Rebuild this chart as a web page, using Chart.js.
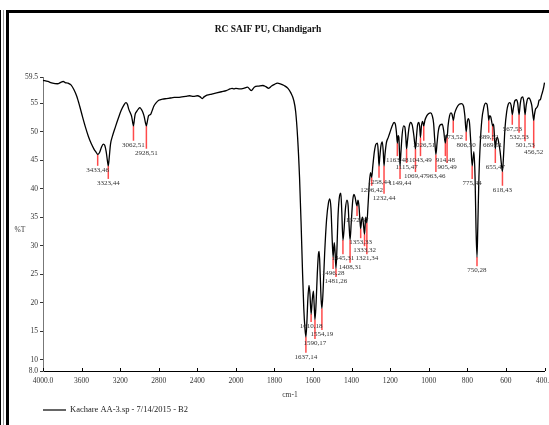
<!DOCTYPE html>
<html>
<head>
<meta charset="utf-8">
<title>RC SAIF PU, Chandigarh</title>
<script src="https://cdn.jsdelivr.net/npm/chart.js@4.4.1/dist/chart.umd.min.js"></script>
<style>
  html, body { margin: 0; padding: 0; background: #fff; overflow: hidden; width: 549px; height: 425px; }
  .rule { position: absolute; background: #000; }
  #wrap { position: absolute; left: 0; top: 0; width: 570px; height: 425px; }
</style>
</head>
<body>
<div class="rule" style="left:0;top:10px;width:1px;height:415px"></div>
<div class="rule" style="left:3px;top:10px;width:1px;height:415px;background:#9a9a9a"></div>
<div class="rule" style="left:6px;top:10px;width:3px;height:415px"></div>
<div class="rule" style="left:6px;top:10px;width:560px;height:3px"></div>
<div id="wrap"><canvas id="ir" width="570" height="425"></canvas></div>
<script>
// ---- Spectrum: wavenumber (cm-1) and transmittance (%T) ----
const WAVENUMBER = [
  4000, 3950, 3900, 3850, 3810, 3790, 3770, 3740, 3710, 3680, 3650, 3620, 3590, 3560, 3530, 3500,
  3470, 3450, 3433, 3415, 3395, 3375, 3360, 3345, 3333, 3323, 3313, 3300, 3280, 3250, 3220, 3190,
  3160, 3140, 3125, 3110, 3095, 3080, 3070, 3062, 3055, 3045, 3030, 3010, 2995, 2980, 2965, 2950,
  2938, 2928, 2918, 2905, 2885, 2870, 2850, 2830, 2800, 2760, 2720, 2680, 2640, 2600, 2560, 2520,
  2480, 2440, 2400, 2370, 2350, 2330, 2300, 2250, 2200, 2150, 2100, 2060, 2040, 2020, 2000, 1980,
  1960, 1940, 1920, 1905, 1880, 1860, 1845, 1830, 1815, 1800, 1785, 1770, 1750, 1730, 1715, 1700,
  1690, 1680, 1670, 1662, 1655, 1648, 1642, 1637, 1632, 1627, 1621, 1616, 1610, 1604, 1598, 1594,
  1590, 1584, 1578, 1572, 1568, 1563, 1558, 1554, 1548, 1540, 1530, 1520, 1513, 1507, 1500, 1496,
  1490, 1486, 1481, 1476, 1470, 1462, 1456, 1451, 1445, 1440, 1432, 1424, 1418, 1413, 1408, 1402,
  1394, 1388, 1382, 1376, 1372, 1367, 1362, 1357, 1353, 1348, 1343, 1338, 1333, 1327, 1321, 1315,
  1308, 1302, 1296, 1290, 1282, 1274, 1266, 1262, 1258, 1254, 1248, 1241, 1236, 1232, 1227, 1220,
  1210, 1200, 1190, 1180, 1174, 1168, 1163, 1159, 1155, 1152, 1149, 1145, 1138, 1130, 1124, 1119,
  1115, 1110, 1102, 1094, 1086, 1078, 1073, 1069, 1064, 1058, 1052, 1047, 1043, 1038, 1032, 1026,
  1020, 1010, 1000, 990, 982, 975, 969, 963, 957, 950, 940, 930, 922, 917, 914, 910,
  907, 905, 900, 892, 885, 879, 873, 866, 855, 842, 830, 820, 813, 806, 800, 795,
  789, 782, 775, 766, 760, 755, 750, 746, 740, 733, 725, 715, 705, 698, 693, 689,
  684, 679, 674, 669, 664, 660, 655, 650, 644, 637, 630, 624, 618, 612, 605, 596,
  588, 580, 573, 567, 561, 554, 546, 539, 532, 526, 520, 513, 507, 501, 495, 487,
  480, 473, 466, 461, 456, 452, 446, 440, 434, 428, 422, 416, 410, 404, 400
];
const TRANSMITTANCE = [
  59.0, 58.8, 58.5, 58.4, 58.7, 58.8, 58.6, 58.5, 58.2, 57.4, 56.2, 54.5, 52.6, 50.8, 49.2, 47.9,
  46.9, 46.4, 46.0, 46.3, 47.2, 47.8, 47.6, 46.5, 45.0, 44.0, 45.5, 47.8, 49.2, 50.8, 52.3, 53.7,
  54.7, 55.1, 54.8, 53.9, 53.3, 52.6, 51.6, 51.0, 51.8, 53.0, 53.5, 54.0, 54.2, 53.9, 53.4, 52.6,
  51.6, 51.0, 51.8, 52.8, 53.0, 53.6, 54.5, 55.0, 55.5, 55.7, 55.8, 55.9, 56.0, 56.0, 56.1, 56.2,
  56.3, 56.2, 56.3, 56.1, 55.8, 56.1, 56.4, 56.6, 56.8, 57.0, 57.2, 57.5, 57.6, 57.5, 57.6, 57.5,
  57.6, 57.8, 57.2, 57.8, 58.0, 58.1, 57.9, 57.6, 58.0, 58.3, 58.5, 58.4, 58.1, 57.6, 56.8, 55.5,
  53.5, 49.0, 42.0, 34.0, 26.0, 19.0, 15.5, 14.0, 16.5, 20.5, 23.0, 21.5, 18.0, 20.5, 22.0, 19.5,
  17.0, 20.0, 25.0, 28.5, 29.0, 25.0, 20.5, 19.0, 22.0, 28.5, 34.5, 37.5, 38.2, 36.5, 30.5, 28.0,
  30.5, 29.0, 26.0, 29.5, 35.5, 38.8, 39.2, 36.0, 31.0, 32.5, 36.5, 38.0, 37.0, 33.5, 31.0, 34.0,
  38.0, 39.0, 38.5, 37.4, 37.0, 38.0, 37.0, 34.5, 33.0, 34.5, 35.0, 33.5, 32.0, 35.0, 34.0, 37.0,
  41.0, 42.8, 42.0, 44.0, 46.5, 47.8, 48.0, 46.5, 44.0, 45.5, 47.5, 48.2, 46.5, 44.0, 46.0, 48.0,
  49.0, 50.0, 51.0, 51.6, 51.4, 50.0, 48.0, 49.3, 49.0, 46.5, 44.0, 46.0, 49.5, 51.0, 50.8, 49.0,
  47.0, 48.5, 50.8, 51.6, 51.2, 49.5, 48.0, 47.0, 49.0, 51.2, 51.6, 50.8, 49.0, 51.0, 51.8, 51.0,
  52.0, 52.8, 53.2, 53.3, 52.8, 51.5, 48.5, 46.0, 48.0, 50.2, 51.2, 51.3, 50.0, 48.5, 48.0, 49.3,
  49.4, 49.0, 51.0, 52.8, 53.3, 53.0, 52.0, 53.2, 54.2, 54.8, 54.9, 54.5, 52.8, 50.0, 51.8, 52.3,
  51.6, 48.0, 44.0, 46.5, 42.0, 33.0, 28.0, 33.0, 42.0, 48.0, 52.0, 54.2, 55.0, 54.8, 53.5, 52.0,
  52.8, 52.6, 51.8, 51.0, 51.3, 49.5, 47.0, 48.5, 49.0, 48.0, 46.5, 44.5, 43.0, 46.0, 50.5, 53.5,
  54.8, 55.1, 54.6, 53.0, 54.2, 55.4, 55.6, 55.0, 53.0, 54.8, 55.9, 56.1, 55.2, 53.0, 54.6, 55.8,
  55.9, 55.5, 54.6, 53.2, 52.0, 53.0, 54.0, 54.2, 54.6, 55.5, 55.6, 56.3, 57.0, 57.8, 58.6
];

// ---- Picked peaks: position (cm-1) and %T at the band minimum ----
const PEAK_WN = [
  3433, 3323, 3062, 2928, 1637, 1610, 1590, 1554, 1496, 1481, 1445, 1408, 1372, 1353,
  1333, 1321, 1296, 1258, 1232, 1163, 1149, 1115, 1069, 1043, 1026, 963, 914, 905,
  873, 806, 775, 750, 689, 669, 655, 618, 567, 532, 501, 456
];
const PEAK_T = [
  46, 44, 51, 51, 14, 18, 17, 19, 28, 26, 31, 31, 37, 33,
  32, 34, 42, 44, 44, 48, 44, 47, 47, 49, 51, 46, 48, 49,
  52, 50, 44, 28, 52, 51, 47, 43, 53, 53, 53, 52
];
// How far (in %T) each peak label hangs below its band, so neighbours do not collide
const PEAK_LABEL_DROP = [
  2.7, 3.0, 3.3, 4.7, 3.5, 2.1, 4.1, 4.5, 2.8, 2.2, 3.2, 4.7, 2.5, 2.4,
  2.8, 6.2, 2.2, 2.8, 5.6, 3.0, 3.0, 3.2, 4.8, 4.0, 3.3, 3.8, 3.0, 5.2,
  2.9, 2.3, 3.0, 2.3, 2.9, 3.3, 3.2, 3.2, 2.5, 3.9, 5.4, 5.6
];

// ---- Axis ticks ----
const X_TICKS = [4000, 3600, 3200, 2800, 2400, 2000, 1800, 1600, 1400, 1200, 1000, 800, 600, 400];
const X_TICK_LABELS = ['4000.0', '3600', '3200', '2800', '2400', '2000', '1800', '1600', '1400', '1200', '1000', '800', '600', '400.0'];
const Y_TICKS = [8, 10, 15, 20, 25, 30, 35, 40, 45, 50, 55, 59.5];
const Y_TICK_LABELS = ['8.0', '10', '15', '20', '25', '30', '35', '40', '45', '50', '55', '59.5'];

const TITLE = 'RC SAIF PU, Chandigarh';
const X_TITLE = 'cm-1';
const Y_TITLE = '%T';
const SERIES_NAME = 'Kachare AA-3.sp - 7/14/2015 - B2';

const SERIF = '"Liberation Serif", "DejaVu Serif", serif';

// Wavenumber axis with the usual scale change at 2000 cm-1:
// 400 cm-1 per division above it, 200 cm-1 per division below it.
function wnToDivision(wn) { return wn >= 2000 ? (4000 - wn) / 400 : 5 + (2000 - wn) / 200; }
function divisionToWn(d) { return d <= 5 ? 4000 - 400 * d : 2000 - 200 * (d - 5); }
const DIVISIONS = wnToDivision(400);

const LinearScale = Chart.LinearScale || Chart.registry.getScale('linear');
class SplitWavenumberScale extends LinearScale {
  determineDataLimits() { this.min = 400; this.max = 4000; }
  buildTicks() { return X_TICKS.map(value => ({ value })); }
  getPixelForValue(value) { return this.getPixelForDecimal(wnToDivision(value) / DIVISIONS); }
  getValueForPixel(pixel) { return divisionToWn(this.getDecimalForPixel(pixel) * DIVISIONS); }
}
SplitWavenumberScale.id = 'splitWavenumber';
SplitWavenumberScale.defaults = LinearScale.defaults;
Chart.register(SplitWavenumberScale);

// Peak markers (red drop lines) and their "wavenumber,%T" labels
const peakMarkers = {
  id: 'peakMarkers',
  beforeDatasetsDraw(chart) {
    const { ctx, scales: { x, y } } = chart;
    ctx.save();
    ctx.strokeStyle = '#ff4a4a';
    ctx.lineWidth = 1.5;
    PEAK_WN.forEach((wn, i) => {
      const px = x.getPixelForValue(wn);
      const yTop = y.getPixelForValue(PEAK_T[i]);
      const yLabel = y.getPixelForValue(PEAK_T[i] - PEAK_LABEL_DROP[i]);
      ctx.beginPath();
      ctx.moveTo(px, yTop);
      ctx.lineTo(px, yLabel - 4);
      ctx.stroke();
    });
    ctx.restore();
  },
  afterDatasetsDraw(chart) {
    const { ctx, scales: { x, y } } = chart;
    ctx.save();
    ctx.fillStyle = '#333';
    ctx.font = '7px ' + SERIF;
    ctx.textAlign = 'center';
    ctx.textBaseline = 'middle';
    PEAK_WN.forEach((wn, i) => {
      const px = x.getPixelForValue(wn);
      const yLabel = y.getPixelForValue(PEAK_T[i] - PEAK_LABEL_DROP[i]);
      ctx.fillText(wn + ',' + PEAK_T[i], px, yLabel);
    });
    ctx.restore();
  }
};

// Inward x ticks, titles and the series key
const frameText = {
  id: 'frameText',
  afterDraw(chart) {
    const { ctx, scales: { x }, chartArea } = chart;
    ctx.save();
    ctx.strokeStyle = '#000';
    ctx.lineWidth = 1;
    X_TICKS.forEach(v => {
      const px = Math.round(x.getPixelForValue(v)) + 0.5;
      ctx.beginPath();
      ctx.moveTo(px, chartArea.bottom);
      ctx.lineTo(px, chartArea.bottom - 3);
      ctx.stroke();
    });

    ctx.fillStyle = '#111';
    ctx.textBaseline = 'middle';
    ctx.textAlign = 'center';
    ctx.font = 'bold 9.5px ' + SERIF;
    ctx.fillText(TITLE, 268, 30);

    ctx.font = '7.5px ' + SERIF;
    ctx.fillStyle = '#333';
    ctx.fillText(X_TITLE, 290, 395);
    ctx.fillText(Y_TITLE, 20, 230);

    ctx.strokeStyle = '#666';
    ctx.lineWidth = 2;
    ctx.beginPath();
    ctx.moveTo(43, 410);
    ctx.lineTo(66, 410);
    ctx.stroke();
    ctx.textAlign = 'left';
    ctx.font = '8.5px ' + SERIF;
    ctx.fillStyle = '#222';
    ctx.fillText(SERIES_NAME, 70, 410);
    ctx.restore();
  }
};

const points = WAVENUMBER.map((wn, i) => ({ x: wn, y: TRANSMITTANCE[i] }));

new Chart(document.getElementById('ir'), {
  type: 'line',
  data: {
    datasets: [{
      label: SERIES_NAME,
      data: points,
      borderColor: '#000',
      borderWidth: 1.3,
      pointRadius: 0,
      cubicInterpolationMode: 'monotone',
      fill: false
    }]
  },
  options: {
    responsive: false,
    animation: false,
    events: [],
    layout: { padding: { left: 0, top: 77.5, right: 25.5, bottom: 0 } },
    plugins: { legend: { display: false }, title: { display: false }, tooltip: { enabled: false } },
    scales: {
      x: {
        type: 'splitWavenumber',
        position: 'bottom',
        grid: { drawOnChartArea: false, drawTicks: false },
        border: { color: '#000', width: 1 },
        ticks: {
          autoSkip: false,
          maxRotation: 0,
          padding: 6,
          color: '#333',
          font: { family: SERIF, size: 7.5 },
          callback: (v, i) => X_TICK_LABELS[i]
        },
        afterFit: s => { s.height = 54; }
      },
      y: {
        type: 'linear',
        position: 'left',
        min: 8,
        max: 59.5,
        afterBuildTicks: s => { s.ticks = Y_TICKS.map(value => ({ value })); },
        grid: { drawOnChartArea: false, drawTicks: true, tickLength: 3, color: '#333' },
        border: { color: '#777', width: 1 },
        ticks: {
          autoSkip: false,
          padding: 2,
          color: '#333',
          font: { family: SERIF, size: 7.5 },
          callback: (v, i) => Y_TICK_LABELS[i]
        },
        afterFit: s => { s.width = 43; }
      }
    }
  },
  plugins: [peakMarkers, frameText]
});
</script>
</body>
</html>
